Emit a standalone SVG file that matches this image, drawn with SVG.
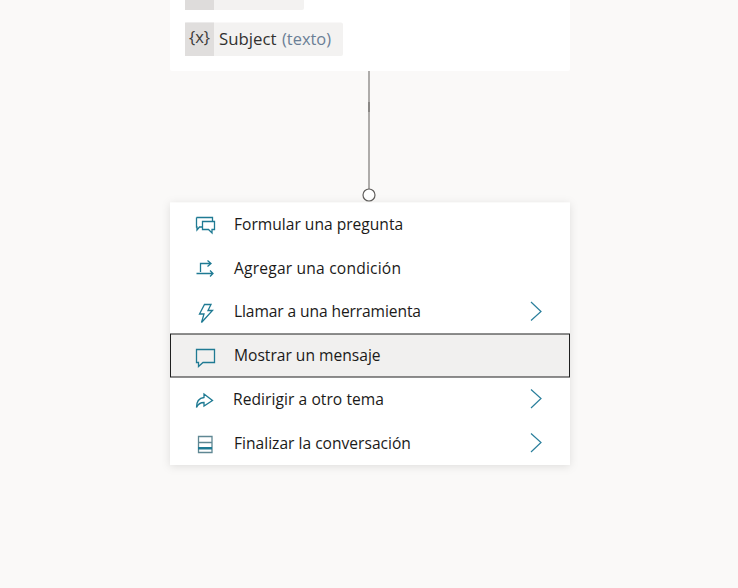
<svg xmlns="http://www.w3.org/2000/svg" width="738" height="588" viewBox="0 0 738 588">
<defs>
<filter id="sh" x="-10%" y="-10%" width="120%" height="125%"><feDropShadow dx="0" dy="1.5" stdDeviation="4" flood-color="#000" flood-opacity="0.11"/></filter>
</defs>
<style>
text{font-family:"Open Sans","Noto Sans","Liberation Sans",sans-serif}
.m{font-size:15.6px;fill:#1b1a19}
.ic{fill:none;stroke:#1f7a93;stroke-width:1.3}
.ch{fill:none;stroke:#2a7f9c;stroke-width:1.2}
</style>
<rect width="738" height="588" fill="#faf9f8"/>
<g id="source-node">
<rect x="170" y="-10" width="400" height="81" rx="2" fill="#fff"/>
<rect x="185" y="-10" width="119" height="20" rx="2" fill="#f3f2f1"/>
<rect x="185" y="-10" width="29" height="20" fill="#dedcdb"/>
<rect x="185" y="22.500" width="158" height="33.500" rx="2" fill="#f3f2f1"/>
<rect x="185" y="22.500" width="29" height="33.500" fill="#e0dedd"/>
<text x="199.500" y="43" font-size="16.500" fill="#3b3a39" text-anchor="middle">{x}</text>
<text x="219" y="44.500" font-size="16.800" fill="#323130">Subject</text>
<text x="282" y="44.500" font-size="16.400" fill="#6b7f96">(texto)</text>
</g>
<g id="connectors">
<line x1="369" y1="71" x2="369" y2="189" stroke="#aeacaa" stroke-width="2"/>
<line x1="369" y1="102" x2="369" y2="112" stroke="#8a8886" stroke-width="2"/>
<circle cx="369" cy="195" r="6" fill="#fff" stroke="#605e5c" stroke-width="1.2"/>
</g>
<g id="menu">
<rect x="170" y="202.500" width="400" height="262.500" fill="#fff" filter="url(#sh)"/>
<g id="item-pregunta">
<path class="ic" d="M196.500 217.500H212.500V221.500M203 227H199.500L197 230V227H196.500V217.500"/>
<path class="ic" d="M202.500 221.500H214.500V229.500H212V233L208.500 229.500H202.500Z"/>
<text class="m" x="234" y="230">Formular una pregunta</text>
</g>
<g id="item-condicion">
<path class="ic" d="M200.500 272V263.500H210M207.500 260.500L211 263.500L207.500 266.500M196.500 273.500H212.500M210 270.500L213 273.500L210 276.500"/>
<text class="m" x="234" y="274" textLength="167">Agregar una condición</text>
</g>
<g id="item-herramienta">
<path class="ic" d="M204.500 304.500H211L208 310.500H212.500L201.500 322.500L204 314H199.500Z"/>
<text class="m" x="234" y="317" textLength="187">Llamar a una herramienta</text>
<path class="ch" d="M531 302L541 311.500L531 320.500"/>
</g>
<g id="item-mensaje">
<rect x="170.500" y="334" width="399" height="43" fill="#f1f0ef" stroke="#1f1f1f" stroke-width="1"/>
<path class="ic" d="M196.500 349.500H214.500V362.500H203L198.500 366.500V362.500H196.500Z"/>
<text class="m" x="234" y="361">Mostrar un mensaje</text>
</g>
<g id="item-redirigir">
<path class="ic" d="M204 394L212.500 400.500L204 406V402.500C200 402.500 198 404 196.500 407.500C196.500 401.500 199.500 398 204 397.500Z"/>
<text class="m" x="233" y="405" textLength="151">Redirigir a otro tema</text>
<path class="ch" d="M531 389.500L541 398.500L531 408"/>
</g>
<g id="item-finalizar">
<path d="M198.500 436.500H212V452.500H198.500ZM198.500 442.500H212" fill="none" stroke="#5f8793" stroke-width="1.3"/>
<rect x="198" y="447" width="14" height="2.500" fill="#1f7a93"/>
<text class="m" x="234" y="449">Finalizar la conversación</text>
<path class="ch" d="M531 433.500L541 442.500L531 452"/>
</g>
</g>
</svg>
